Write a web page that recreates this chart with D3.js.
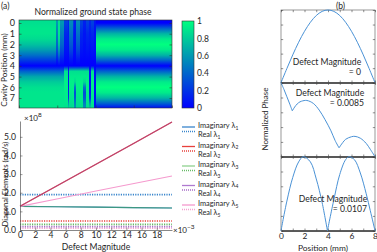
<!DOCTYPE html>
<html>
<head>
<meta charset="utf-8">
<script src="https://cdnjs.cloudflare.com/ajax/libs/d3/7.8.5/d3.min.js"></script>
<style>
  body { margin: 0; background: #fff; }
  svg { display: block; font-family: Lato, "Noto Sans", sans-serif; }
</style>
</head>
<body>
<svg id="chart" width="377" height="252"></svg>
<script>
// ---- panel (a) heatmap: column profiles sampled at cavity positions 0..8 mm
const rowStops = [0, 0.5, 1, 1.5, 2, 2.5, 3, 3.5, 4, 4.5, 5, 5.5, 6, 6.5, 7, 7.5, 8];
const profiles = {
  L:  [0.88, 0.9, 0.9, 0.86, 0.76, 0.62, 0.44, 0.22, 0.0, 0.38, 0.66, 0.8, 0.88, 0.9, 0.9, 0.9, 0.9],
  M1: [0.6, 0.55, 0.5, 0.45, 0.4, 0.32, 0.22, 0.1, 0.0, 0.38, 0.66, 0.8, 0.88, 0.9, 0.9, 0.9, 0.9],
  M2: [0.25, 0.2, 0.15, 0.12, 0.1, 0.08, 0.05, 0.02, 0.0, 0.88, 0.92, 0.94, 0.94, 0.93, 0.92, 0.9, 0.88],
  M3: [0.15, 0.12, 0.1, 0.1, 0.08, 0.06, 0.04, 0.02, 0.0, 0.1, 0.08, 0.08, 0.1, 0.12, 0.2, 0.6, 0.85],
  M4: [0.55, 0.5, 0.45, 0.4, 0.35, 0.28, 0.18, 0.08, 0.0, 0.88, 0.92, 0.94, 0.94, 0.92, 0.9, 0.88, 0.85],
  M5: [0.12, 0.1, 0.08, 0.08, 0.06, 0.05, 0.04, 0.02, 0.0, 0.88, 0.92, 0.85, 0.45, 0.3, 0.35, 0.5, 0.6],
  M6: [0.08, 0.07, 0.06, 0.06, 0.05, 0.05, 0.04, 0.02, 0.0, 0.05, 0.05, 0.05, 0.05, 0.06, 0.06, 0.07, 0.08],
  R:  [0.0, 0.38, 0.71, 0.92, 1.0, 0.92, 0.71, 0.38, 0.0, 0.38, 0.71, 0.92, 1.0, 0.92, 0.71, 0.38, 0.0]
};
// column start (defect magnitude x1e-3) and the profile used from there on
const colStart = [0, 4.8, 5.1, 5.4, 5.9, 6.4, 6.6, 7.0, 7.2, 7.5, 8.0, 8.4, 8.8, 9.2, 9.4, 9.8, 10.1];
const colProfile = ["L", "M1", "L", "M1", "M2", "M3", "M4", "M2", "M5", "M4", "M2", "M5", "M2", "M3", "M2", "M6", "R"];
const colEnd = 20;
const cavityTicks = [0, 1, 2, 3, 4, 5, 6, 7];
const colorbarTicks = [0, 0.2, 0.4, 0.6, 0.8, 1];

// ---- panel (a) lines: defect magnitude (x1e-3) vs diagonal elements (x1e8 rad/s)
const defect = [0, 5, 10, 15, 20];
const imag1 = [1.27, 1.25, 1.23, 1.2, 1.18];
const imag2 = [1.27, 2.4, 3.53, 4.66, 5.8];
const imag3 = [1.27, 1.25, 1.23, 1.2, 1.18];
const imag4 = [1.27, 2.4, 3.53, 4.66, 5.8];
const imag5 = [1.27, 1.68, 2.09, 2.5, 2.9];
const real1 = [1.9, 1.9, 1.9, 1.9, 1.9];
const real2 = [0.48, 0.48, 0.48, 0.48, 0.48];
const real3 = [0.3, 0.3, 0.3, 0.3, 0.3];
const real4 = [0.18, 0.18, 0.18, 0.18, 0.18];
const real5 = [0.09, 0.09, 0.09, 0.09, 0.09];
const defectTicks = [0, 2, 4, 6, 8, 10, 12, 14, 16, 18];
const diagTicks = [0, 1, 2, 3, 4, 5];

// ---- panel (b): normalized phase vs position (mm), arcs split at cusps
const phase0 = [[[0, 0], [0.5, 0.195], [1, 0.383], [1.5, 0.556], [2, 0.707], [2.5, 0.831], [3, 0.924], [3.5, 0.981],
  [4, 1], [4.5, 0.981], [5, 0.924], [5.5, 0.831], [6, 0.707], [6.5, 0.556], [7, 0.383], [7.5, 0.195], [8, 0]]];
const phase85 = [
  [[0, 1.0], [0.25, 0.91], [0.5, 0.81], [0.75, 0.71], [0.96, 0.62]],
  [[0.96, 0.62], [1.25, 0.69], [1.5, 0.73], [1.75, 0.75], [2.2, 0.76], [2.75, 0.72], [3.25, 0.63], [3.75, 0.5],
   [4.25, 0.35], [4.6, 0.22], [4.94, 0.12]],
  [[4.94, 0.12], [5.25, 0.19], [5.5, 0.235], [6.0, 0.27], [6.3, 0.275], [6.75, 0.25], [7.25, 0.18], [7.6, 0.1], [8, 0.0]]
];
const phase107 = [
  [[0, 0], [0.5, 0.4], [1.0, 0.72], [1.5, 0.93], [1.9, 1.0], [2.5, 0.93], [3.0, 0.7], [3.5, 0.38], [3.95, 0]],
  [[3.95, 0], [4.5, 0.42], [5.0, 0.76], [5.5, 0.96], [5.8, 1.0], [6.25, 0.96], [6.75, 0.78], [7.25, 0.5], [7.6, 0.27], [8, 0]]
];
const positionTicks = [0, 2, 4, 6, 8];

const txt = "#262626";
const svg = d3.select("#chart");
const winter = (v) => d3.rgb(0, 255 * v, 255 * (1 - v / 2)).toString();

svg.append("text").attr("x", 1).attr("y", 9).attr("font-size", 8.5).attr("fill", txt).text("(a)");
svg.append("text").attr("x", 336).attr("y", 9).attr("font-size", 8.5).attr("fill", txt).text("(b)");

// ================= heatmap =================
const hx = d3.scaleLinear().domain([0, 20]).range([19, 172]);
const hy = d3.scaleLinear().domain([-0.28, 7.93]).range([20, 108]);
const defs = svg.append("defs");
Object.keys(profiles).forEach((k) => {
  const g = defs.append("linearGradient").attr("id", "prof-" + k)
    .attr("gradientUnits", "userSpaceOnUse")
    .attr("x1", 0).attr("x2", 0).attr("y1", hy(0)).attr("y2", hy(8));
  g.selectAll("stop").data(profiles[k]).join("stop")
    .attr("offset", (d, i) => rowStops[i] / 8)
    .attr("stop-color", (d) => winter(d));
});
const cols = colStart.map((s, i) => ({ s, e: i < colStart.length - 1 ? colStart[i + 1] : colEnd, p: colProfile[i] }));
svg.append("g").selectAll("rect").data(cols).join("rect")
  .attr("x", (d) => hx(d.s))
  .attr("width", (d) => hx(d.e) - hx(d.s) + 0.4)
  .attr("y", hy.range()[0])
  .attr("height", hy.range()[1] - hy.range()[0])
  .attr("shape-rendering", "crispEdges")
  .attr("fill", (d) => "url(#prof-" + d.p + ")");
svg.append("rect").attr("x", 19).attr("y", 20).attr("width", 153).attr("height", 88)
  .attr("fill", "none").attr("stroke", "#333").attr("stroke-width", 0.6);

const hLeft = svg.append("g").attr("transform", "translate(19,0)")
  .call(d3.axisLeft(hy).tickValues(cavityTicks).tickSize(-2.5).tickPadding(4));
const hRight = svg.append("g").attr("transform", "translate(172,0)")
  .call(d3.axisRight(hy).tickValues(cavityTicks).tickSize(-2.5).tickFormat(""));
const hBot = svg.append("g").attr("transform", "translate(0,108)")
  .call(d3.axisBottom(hx).tickValues([0, 5, 10, 15, 20]).tickSize(-2.5).tickFormat(""));
[hLeft, hRight, hBot].forEach((g) => {
  g.select(".domain").remove();
  g.selectAll("line").attr("stroke", "#333").attr("stroke-width", 0.6);
  g.selectAll("text").attr("font-size", 9).attr("fill", txt).attr("font-family", "Lato, sans-serif");
});
svg.append("text").attr("x", 93).attr("y", 15).attr("text-anchor", "middle")
  .attr("font-size", 8.6).attr("fill", txt).text("Normalized ground state phase");
svg.append("text").attr("transform", "translate(7,70) rotate(-90)").attr("text-anchor", "middle")
  .attr("font-size", 8.2).attr("fill", txt).text("Cavity Position (mm)");

// colorbar
const cb = d3.scaleLinear().domain([0, 1]).range([108, 21]);
const cbg = defs.append("linearGradient").attr("id", "cbar").attr("x1", 0).attr("x2", 0).attr("y1", 1).attr("y2", 0);
cbg.selectAll("stop").data(colorbarTicks).join("stop")
  .attr("offset", (d) => d).attr("stop-color", (d) => winter(d));
svg.append("rect").attr("x", 182).attr("y", 21).attr("width", 12).attr("height", 87)
  .attr("fill", "url(#cbar)").attr("stroke", "#333").attr("stroke-width", 0.6);
const cbAxis = svg.append("g").attr("transform", "translate(194,0)")
  .call(d3.axisRight(cb).tickValues(colorbarTicks).tickSize(0).tickPadding(3)
    .tickFormat((d) => (d === 0 || d === 1 ? d3.format("d")(d) : d3.format(".1f")(d))));
cbAxis.select(".domain").remove();
cbAxis.selectAll("text").attr("font-size", 8.5).attr("fill", txt).attr("font-family", "Lato, sans-serif");

// ================= diagonal elements plot =================
const lx = d3.scaleLinear().domain([0, 20]).range([20, 172]);
const ly = d3.scaleLinear().domain([0, 5.85]).range([230, 121]);
const series = [
  { v: real5, c: "#f4a0d0", dash: "1.2,1.2" },
  { v: real4, c: "#a66cc8", dash: "1.2,1.2" },
  { v: real3, c: "#66bb66", dash: "1.2,1.2" },
  { v: real2, c: "#e8413c", dash: "1.2,1.2" },
  { v: real1, c: "#3a86cc", dash: "1.2,1.2" },
  { v: imag1, c: "#3a86cc", dash: null, op: 1 },
  { v: imag3, c: "#3f9e6a", dash: null, op: 0.75 },
  { v: imag5, c: "#f59ace", dash: null, op: 1 },
  { v: imag2, c: "#e8413c", dash: null, op: 1 },
  { v: imag4, c: "#a0408c", dash: null, op: 0.6 }
];
const line = d3.line().x((d) => lx(d[0])).y((d) => ly(d[1]));
svg.append("g").selectAll("path").data(series).join("path")
  .attr("d", (s) => line(defect.map((x, i) => [x, s.v[i]])))
  .attr("fill", "none")
  .attr("stroke", (s) => s.c)
  .attr("stroke-opacity", (s) => s.op || 1)
  .attr("stroke-width", (s) => (s.dash ? 1.6 : 1.1))
  .attr("stroke-dasharray", (s) => s.dash);

const lLeft = svg.append("g").attr("transform", "translate(20,0)")
  .call(d3.axisLeft(ly).tickValues(diagTicks).tickSize(-2.5).tickPadding(4).tickSizeOuter(0));
const lBot = svg.append("g").attr("transform", "translate(0,230)")
  .call(d3.axisBottom(lx).tickValues(defectTicks).tickSize(-2.5).tickPadding(2).tickSizeOuter(0));
[lLeft, lBot].forEach((g) => {
  g.select(".domain").attr("stroke", "#555").attr("stroke-width", 0.7);
  g.selectAll("line").attr("stroke", "#555").attr("stroke-width", 0.6);
  g.selectAll("text").attr("font-size", 8.6).attr("fill", txt).attr("font-family", "Lato, sans-serif");
});
const e8 = svg.append("text").attr("x", 24).attr("y", 121).attr("font-size", 8).attr("fill", txt);
e8.append("tspan").text("\u00d710");
e8.append("tspan").attr("dy", -4).attr("font-size", 6.5).text("8");
const e3 = svg.append("text").attr("x", 173).attr("y", 233).attr("font-size", 8).attr("fill", txt);
e3.append("tspan").text("\u00d710");
e3.append("tspan").attr("dy", -4).attr("font-size", 6.5).text("\u22123");
svg.append("text").attr("x", 96).attr("y", 249.5).attr("text-anchor", "middle")
  .attr("font-size", 8.6).attr("fill", txt).text("Defect Magnitude");
svg.append("text").attr("transform", "translate(7.5,184) rotate(-90)").attr("text-anchor", "middle")
  .attr("font-size", 7.6).attr("fill", txt).text("Diagonal Elements (rad/s)");

// legend
const legendItems = [
  { n: 1, c: "#3a86cc" }, { n: 2, c: "#e8413c" }, { n: 3, c: "#8fd18f", cd: "#66bb66" },
  { n: 4, c: "#b07ad0", cd: "#a66cc8" }, { n: 5, c: "#f59ace", cd: "#f4a0d0" }
];
const lg = svg.append("g").selectAll("g").data(legendItems).join("g")
  .attr("transform", (d, i) => "translate(182," + (127 + i * 19.5) + ")");
lg.append("line").attr("x1", 0).attr("x2", 13).attr("y1", 0).attr("y2", 0)
  .attr("stroke", (d) => d.c).attr("stroke-width", 1.3);
lg.append("line").attr("x1", 0).attr("x2", 13).attr("y1", 4.5).attr("y2", 4.5)
  .attr("stroke", (d) => d.cd || d.c).attr("stroke-width", 1.3).attr("stroke-dasharray", "1,1");
const t1 = lg.append("text").attr("x", 16).attr("y", 1).attr("font-size", 7.4).attr("fill", txt);
t1.append("tspan").text("Imaginary \u03bb");
t1.append("tspan").attr("dy", 1.5).attr("font-size", 5).text((d) => d.n);
const t2 = lg.append("text").attr("x", 16).attr("y", 10).attr("font-size", 7.4).attr("fill", txt);
t2.append("tspan").text("Real \u03bb");
t2.append("tspan").attr("dy", 1.5).attr("font-size", 5).text((d) => d.n);

// ================= panel (b) =================
const bx = d3.scaleLinear().domain([0, 8]).range([281, 375]);
const panels = [
  { data: phase0, top: 10, bot: 82.7, lab: "= 0", lx: 327, ly: 65, rx: 361 },
  { data: phase85, top: 82.7, bot: 156.7, lab: "= 0.0085", lx: 330, ly: 96, rx: 364 },
  { data: phase107, top: 156.7, bot: 230.7, lab: "= 0.0107", lx: 333, ly: 202, rx: 367 }
];
const arc = d3.line().curve(d3.curveCatmullRom);
panels.forEach((p, pi) => {
  const by = d3.scaleLinear().domain([0, 1]).range([p.bot, p.top]);
  const g = svg.append("g");
  g.append("rect").attr("x", 281).attr("y", p.top).attr("width", 94).attr("height", p.bot - p.top)
    .attr("fill", "none").attr("stroke", "#555").attr("stroke-width", 0.6);
  const left = g.append("g").attr("transform", "translate(281,0)")
    .call(d3.axisLeft(by).ticks(5).tickSize(-2.2).tickFormat(""));
  const right = g.append("g").attr("transform", "translate(375,0)")
    .call(d3.axisRight(by).ticks(5).tickSize(-2.2).tickFormat(""));
  const bot = g.append("g").attr("transform", "translate(0," + p.bot + ")")
    .call(d3.axisBottom(bx).ticks(8).tickSize(-2.2).tickSizeOuter(0).tickPadding(2)
      .tickFormat((d) => (pi === 2 && positionTicks.includes(d) ? d : "")));
  const top = g.append("g").attr("transform", "translate(0," + p.top + ")")
    .call(d3.axisTop(bx).ticks(8).tickSize(-2.2).tickFormat(""));
  [left, right, top].forEach((a) => a.select(".domain").remove());
  [left, right, top, bot].forEach((a) => a.selectAll("line").attr("stroke", "#444").attr("stroke-width", 0.6));
  bot.select(".domain").attr("stroke", "#222").attr("stroke-width", 1.3);
  bot.selectAll("text").attr("font-size", 8.4).attr("fill", txt).attr("font-family", "Lato, sans-serif");
  g.selectAll("path.arc").data(p.data).join("path").attr("class", "arc")
    .attr("d", (seg) => arc(seg.map((d) => [bx(d[0]), by(d[1])])))
    .attr("fill", "none").attr("stroke", "#4a92d6").attr("stroke-width", 1);
  g.append("text").attr("x", p.lx).attr("y", p.ly).attr("text-anchor", "middle")
    .attr("font-size", 8.6).attr("fill", txt).text("Defect Magnitude");
  g.append("text").attr("x", p.rx).attr("y", p.ly + 9.5).attr("text-anchor", "end")
    .attr("font-size", 8.6).attr("fill", txt).text(p.lab);
});
svg.append("text").attr("x", 323).attr("y", 250.5).attr("text-anchor", "middle")
  .attr("font-size", 8.4).attr("fill", txt).text("Position (mm)");
svg.append("text").attr("transform", "translate(268,119) rotate(-90)").attr("text-anchor", "middle")
  .attr("font-size", 8).attr("fill", txt).text("Normalized Phase");
</script>
</body>
</html>
